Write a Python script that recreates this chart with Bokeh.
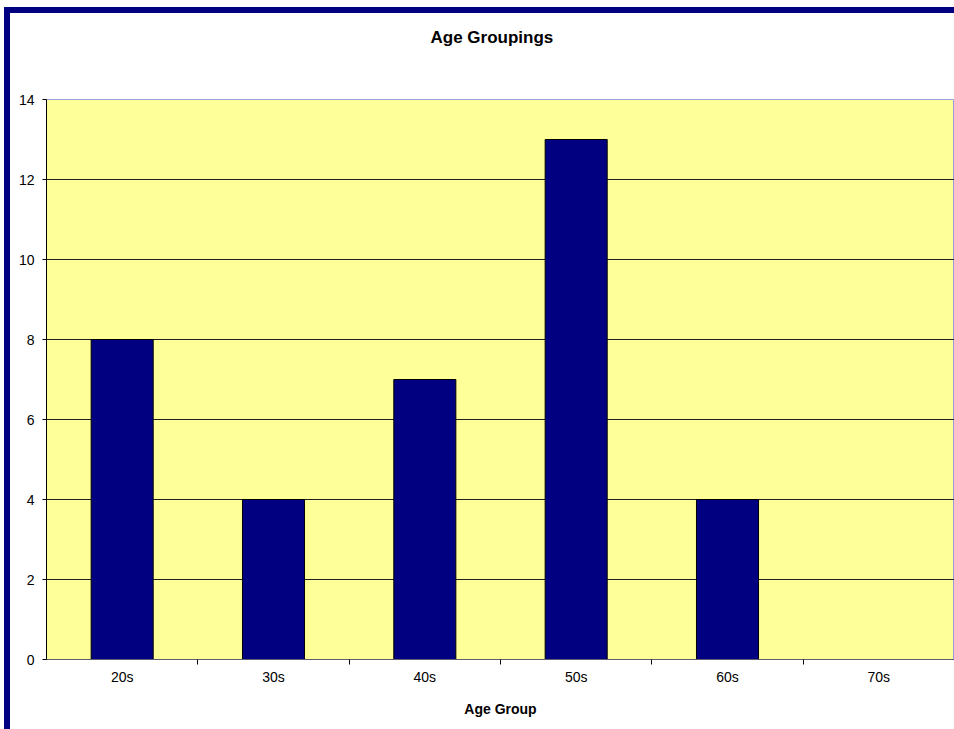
from bokeh.plotting import figure
from bokeh.models import (Range1d, FixedTicker, ColumnDataSource, Title)
from bokeh.embed import file_html
from bokeh.resources import INLINE

categories = ["20s", "30s", "40s", "50s", "60s", "70s"]
counts = [8, 4, 7, 13, 4, 0]
y_ticks = [0, 2, 4, 6, 8, 10, 12, 14]
title_text = "Age Groupings"
x_label = "Age Group"

FONT = "Liberation Sans"
W, H = 954, 729
NAVY = "#000080"

n = len(categories)
centers = [i + 0.5 for i in range(n)]          # category slot centres
src = ColumnDataSource(dict(x=centers, n=counts, cat=categories))

# navy chart-area border (left and top edges visible), drawn behind a transparent canvas
frame_css = {
    "background-color": "white",
    "background-image": f"linear-gradient({NAVY},{NAVY}), linear-gradient({NAVY},{NAVY})",
    "background-size": "6px 722px, 950px 6px",
    "background-position": "4px 7px, 4px 7px",
    "background-repeat": "no-repeat",
}

p = figure(width=W, height=H, output_backend="svg", toolbar_location=None,
           x_range=Range1d(0, n),
           y_range=Range1d(y_ticks[0], y_ticks[-1]),
           min_border_left=46, min_border_right=0, min_border_top=99, min_border_bottom=70,
           styles=frame_css)
p.title = None

p.background_fill_color = "#FFFF99"
p.border_fill_color = None
p.outline_line_color = "#9c9cd8"
p.outline_line_width = 1

p.vbar(x="x", top="n", width=0.41, source=src, fill_color=NAVY,
       line_color="black", line_width=1)

# y axis
yax = p.yaxis[0]
yax.ticker = FixedTicker(ticks=y_ticks)
yax.axis_line_color = "black"
yax.major_tick_line_color = "black"
yax.major_tick_in = 0
yax.major_tick_out = 4
yax.minor_tick_line_color = None
yax.major_label_text_font = FONT
yax.major_label_text_font_size = "14px"
yax.major_label_text_color = "black"
yax.major_label_standoff = 8

p.xgrid.visible = False
p.ygrid.ticker = FixedTicker(ticks=y_ticks[1:-1])
p.ygrid.grid_line_color = "#202020"
p.ygrid.grid_line_width = 1

# x axis: labels at slot centres, tick marks between categories
xax = p.xaxis[0]
xax.ticker = FixedTicker(ticks=centers, minor_ticks=list(range(1, n)))
xax.major_label_overrides = {c: lab for c, lab in zip(centers, categories)}
xax.major_tick_line_color = None
xax.major_tick_in = 0
xax.major_tick_out = 0
xax.minor_tick_line_color = "black"
xax.minor_tick_in = 0
xax.minor_tick_out = 5
xax.axis_line_color = "#5f5f70"
xax.major_label_text_font = FONT
xax.major_label_text_font_size = "14px"
xax.major_label_text_color = "black"
xax.major_label_standoff = 4
xax.axis_label = x_label
xax.axis_label_text_font = FONT
xax.axis_label_text_font_size = "14px"
xax.axis_label_text_font_style = "bold"
xax.axis_label_text_color = "black"
xax.axis_label_standoff = 13

# spacer panel next to the plot area, then the real title further out
p.add_layout(Title(text=" ", text_font_size="1px", standoff=50), "above")
p.add_layout(Title(text=title_text, text_font=FONT, text_font_size="17px",
                   text_font_style="bold", text_color="black",
                   align="left", offset=384, standoff=0), "above")

open("out.html", "w").write(file_html(p, INLINE))
